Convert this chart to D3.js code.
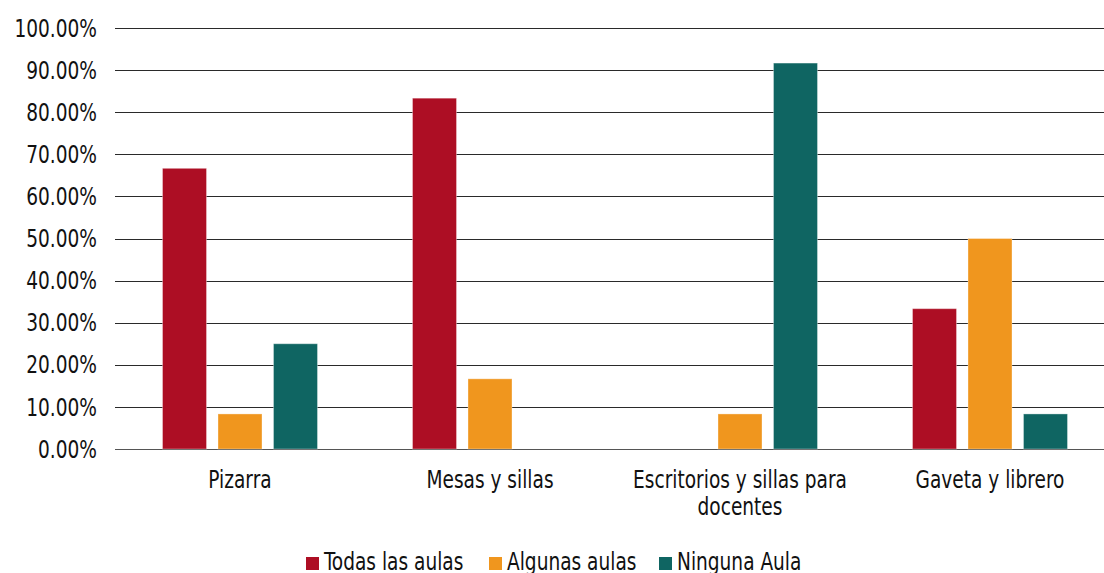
<!DOCTYPE html>
<html>
<head>
<meta charset="utf-8">
<script src="https://cdn.jsdelivr.net/npm/d3@7"></script>
<style>
  body { margin: 0; background: #fff; }
  svg text { font-family: "Liberation Sans Narrow", "DejaVu Sans Condensed", sans-serif; fill: #111; font-size: 24px; }
</style>
</head>
<body>
<div id="chart"></div>
<script>
const categories = ['Pizarra', 'Mesas y sillas', 'Escritorios y sillas para docentes', 'Gaveta y librero'];
const categoryLines = [['Pizarra'], ['Mesas y sillas'], ['Escritorios y sillas para', 'docentes'], ['Gaveta y librero']];
const series = ['Todas las aulas', 'Algunas aulas', 'Ninguna Aula'];
const colors = ['#ad0e24', '#f0961e', '#0f6562'];
const todas = [0.6667, 0.8333, 0, 0.3333];
const algunas = [0.0833, 0.1667, 0.0833, 0.5];
const ninguna = [0.25, 0, 0.9167, 0.0833];
const yTicks = [0, 0.1, 0.2, 0.3, 0.4, 0.5, 0.6, 0.7, 0.8, 0.9, 1];

const values = [todas, algunas, ninguna];
const data = categories.map((c, i) => ({
  cat: c,
  vals: series.map((s, j) => ({ s: s, j: j, v: values[j][i] }))
}));

const width = 1104, height = 573;
const sx = 0.86; // squeeze the condensed font a bit more
const svg = d3.select('#chart').append('svg')
  .attr('width', width)
  .attr('height', height);

const x0 = d3.scaleBand().domain(categories).range([115, 1115]).padding(0);
const x1 = d3.scaleBand().domain(series).range([0, x0.bandwidth()])
  .paddingInner(0.207).paddingOuter(0.856);
const y = d3.scaleLinear().domain([0, 1]).range([449, 28]);

// gridlines
svg.append('g')
  .selectAll('line')
  .data(yTicks)
  .enter()
  .append('line')
  .attr('x1', 115)
  .attr('x2', 1115)
  .attr('y1', (d) => Math.round(y(d)) + 0.5)
  .attr('y2', (d) => Math.round(y(d)) + 0.5)
  .attr('stroke', (d) => d === 0 ? '#555' : '#2a2a2a')
  .attr('stroke-width', 1.2);

// y axis labels
svg.append('g')
  .selectAll('text')
  .data(yTicks)
  .enter()
  .append('text')
  .attr('transform', (d) => `translate(97,${y(d)}) scale(${sx},1)`)
  .attr('dy', '0.36em')
  .attr('text-anchor', 'end')
  .text((d) => (d * 100).toFixed(2) + '%');

// bars
const groups = svg.append('g')
  .selectAll('g')
  .data(data)
  .enter()
  .append('g')
  .attr('transform', (d) => `translate(${x0(d.cat)},0)`);

groups.selectAll('rect')
  .data((d) => d.vals.filter((v) => v.v > 0))
  .enter()
  .append('rect')
  .attr('x', (d) => x1(d.s))
  .attr('y', (d) => y(d.v))
  .attr('width', x1.bandwidth())
  .attr('height', (d) => y(0) - y(d.v))
  .attr('fill', (d) => colors[d.j])
  .attr('stroke', '#fff')
  .attr('stroke-opacity', 0.35)
  .attr('stroke-width', 1);

// category labels
const catLabels = svg.append('g')
  .selectAll('text')
  .data(categories)
  .enter()
  .append('text')
  .attr('transform', (d) => `translate(${x0(d) + x0.bandwidth() / 2},488) scale(${sx},1)`)
  .attr('text-anchor', 'middle');

catLabels.selectAll('tspan')
  .data((d, i) => categoryLines[i])
  .enter()
  .append('tspan')
  .attr('x', 0)
  .attr('dy', (d, i) => i === 0 ? 0 : 27)
  .text((d) => d);

// legend
const legendX = [306, 489, 659];
const legend = svg.append('g')
  .selectAll('g')
  .data(series)
  .enter()
  .append('g')
  .attr('transform', (d, i) => `translate(${legendX[i]},0)`);

legend.append('rect')
  .attr('x', 0)
  .attr('y', 557)
  .attr('width', 13)
  .attr('height', 13)
  .attr('fill', (d, i) => colors[i]);

legend.append('text')
  .attr('transform', `translate(18,570) scale(${sx},1)`)
  .text((d) => d);
</script>
</body>
</html>
